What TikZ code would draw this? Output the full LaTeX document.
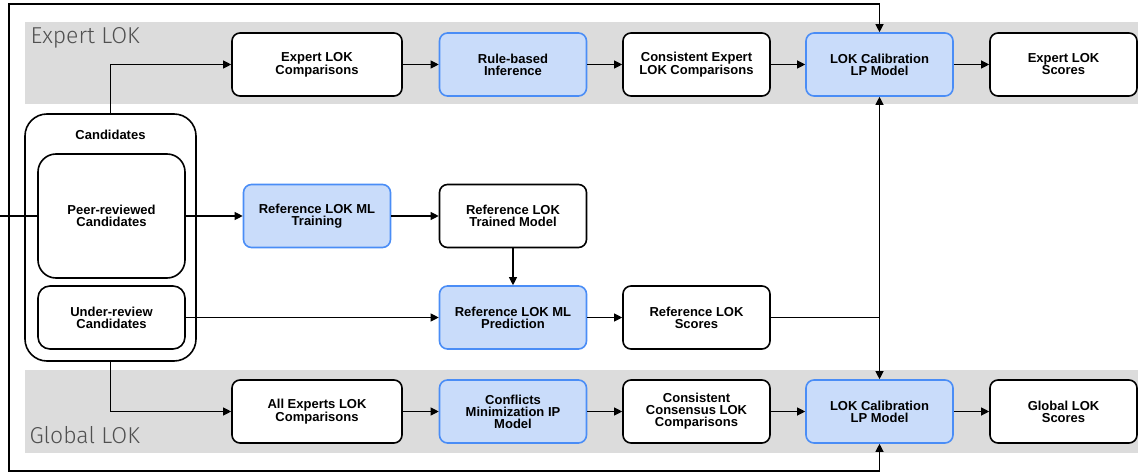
\documentclass[tikz,border=0pt]{standalone}
\usepackage{fontspec}
\setmainfont{Liberation Sans}
\newfontfamily\bandfont{Fira Sans Light}
\usetikzlibrary{arrows.meta}
\definecolor{bandgray}{HTML}{DCDCDC}
\definecolor{mlfill}{HTML}{C9DCFA}
\definecolor{mlline}{HTML}{4A8DF6}
\definecolor{labelgray}{HTML}{505050}
\begin{document}
\begin{tikzpicture}[x=1pt,y=-1pt,
    box/.style={draw=black,line width=1.6pt,rounded corners=8pt,fill=white,
        minimum width=147pt,minimum height=63pt,align=center,inner sep=2pt,
        font=\fontsize{13}{12}\selectfont\bfseries},
    mlbox/.style={box,draw=mlline,fill=mlfill},
    wide/.style={minimum width=170pt},
    arr/.style={line width=1.1pt,-{Triangle[length=8pt,width=8pt]}},
    conn/.style={line width=1.1pt},
    band/.style={fill=bandgray,draw=none},
    bandlabel/.style={anchor=base west,text=labelgray,font=\bandfont\fontsize{23}{23}\selectfont}]
    \useasboundingbox (0,0) rectangle (1138,473);
    % bands
    \fill[band] (25,22) rectangle (1138,104);
    \fill[band] (25,370) rectangle (1138,453);
    \node[bandlabel] (explab) at (27,44) {Expert LOK};
    \node[bandlabel] (glolab) at (26,443) {Global LOK};
    % candidates
    \node[draw,line width=1.6pt,rounded corners=22pt,minimum width=171pt,minimum height=247pt] (cand) at (110.5,237.5) {};
    \node[font=\fontsize{13}{12}\selectfont\bfseries] (candlab) at (110.5,135) {Candidates};
    \node[box,rounded corners=18pt,minimum height=124pt] (peer) at (111.5,216) {Peer-reviewed\\Candidates};
    \node[box,rounded corners=12pt] (under) at (111.5,317.5) {Under-review\\Candidates};
    % expert LOK row
    \node[box,wide] (ec) at (317,64.5) {Expert LOK\\Comparisons};
    \node[mlbox] (rb) at (513,64.5) {Rule-based\\Inference};
    \node[box] (cec) at (696.5,64.5) {Consistent Expert\\LOK Comparisons};
    \node[mlbox] (calT) at (879.5,64.5) {LOK Calibration\\LP Model};
    \node[box] (esc) at (1063.5,64.5) {Expert LOK\\Scores};
    % reference LOK
    \node[mlbox] (train) at (317,216) {Reference LOK ML\\Training};
    \node[box] (trained) at (513,216) {Reference LOK\\Trained Model};
    \node[mlbox] (pred) at (513,317.5) {Reference LOK ML\\Prediction};
    \node[box] (rsc) at (696.5,317.5) {Reference LOK\\Scores};
    % global LOK row
    \node[box,wide] (aec) at (317,411.5) {All Experts LOK\\Comparisons};
    \node[mlbox] (cmi) at (513,411.5) {Conflicts\\Minimization IP\\Model};
    \node[box] (ccc) at (696.5,411.5) {Consistent\\Consensus LOK\\Comparisons};
    \node[mlbox] (calB) at (879.5,411.5) {LOK Calibration\\LP Model};
    \node[box] (gsc) at (1063.5,411.5) {Global LOK\\Scores};
    % loop coordinates
    \coordinate (stub) at (0,216);
    \coordinate (loop) at (9,216);
    \coordinate (ftop) at (9,4);
    \coordinate (fbot) at (9,471);
    % connectors
    \draw[arr] (cand.north) |- (ec.west);
    \draw[arr] (cand.south) |- (aec.west);
    \draw[arr] (ec) -- (rb);
    \draw[arr] (rb) -- (cec);
    \draw[arr] (cec) -- (calT);
    \draw[arr] (calT) -- (esc);
    \draw[arr] (aec) -- (cmi);
    \draw[arr] (cmi) -- (ccc);
    \draw[arr] (ccc) -- (calB);
    \draw[arr] (calB) -- (gsc);
    \draw[arr] (peer.east) -- (train.west);
    \draw[arr] (train) -- (trained);
    \draw[arr] (trained) -- (pred);
    \draw[arr] (under.east) -- (pred.west);
    \draw[arr] (pred) -- (rsc);
    \draw[arr] (rsc.east) -| (calT.south);
    \draw[arr] (rsc.east) -| (calB.north);
    \draw[conn] (stub) -- (peer.west);
    \draw[arr] (loop) -- (ftop) -| (calT.north);
    \draw[arr] (loop) -- (fbot) -| (calB.south);
\end{tikzpicture}
\end{document}
